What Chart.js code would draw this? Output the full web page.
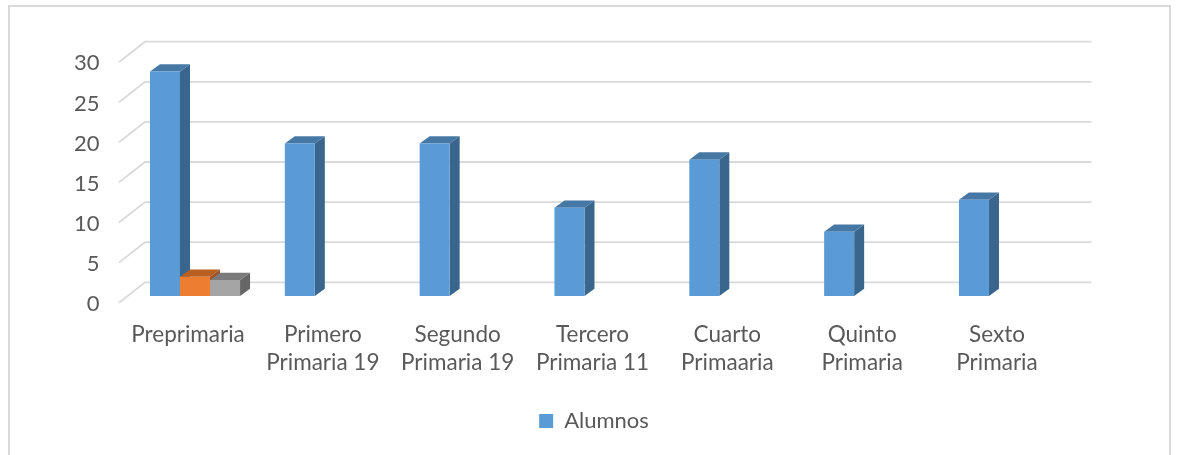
<!DOCTYPE html>
<html>
<head>
<meta charset="utf-8">
<title>Alumnos</title>
<script src="https://cdn.jsdelivr.net/npm/chart.js@4"></script>
<style>
    html, body { margin: 0; padding: 0; background: #fff; overflow: hidden; }
    #marco { position: absolute; left: 8px; top: 5px; width: 1159px; height: 470px; border: 2px solid #d9d9d9; }
    #myChart { position: absolute; left: 0; top: 0; }
</style>
</head>
<body>
<div id="marco"></div>
<canvas id="myChart" width="1178" height="455" style="width:1178px;height:455px"></canvas>
<script>
// Datos
const categorias = [
    'Preprimaria',
    ['Primero', 'Primaria 19'],
    ['Segundo', 'Primaria 19'],
    ['Tercero', 'Primaria 11'],
    ['Cuarto', 'Primaaria'],
    ['Quinto', 'Primaria'],
    ['Sexto', 'Primaria']
];
const alumnos = [28, 19, 19, 11, 17, 8, 12];
const columna2 = [2.4, null, null, null, null, null, null];
const columna3 = [2, null, null, null, null, null, null];

// Colores de cada serie: frente, lado, techo
const caras = [
    { frente: '#5b9bd5', lado: '#3a658c', techo: '#4678a6' },
    { frente: '#ed7d31', lado: '#9c5222', techo: '#b85f22' },
    { frente: '#a5a5a5', lado: '#666666', techo: '#7a7a7a' }
];
const colorTexto = '#595959';
const colorRejilla = '#d9d9d9';
const fuente = 'Lato, sans-serif';

// Profundidad del efecto 3D en pixeles
const fondoX = 10;
const fondoY = 7.3;

// Rejilla en perspectiva: linea corta en el piso y linea larga en la pared
const rejilla3d = {
    id: 'rejilla3d',
    beforeDatasetsDraw(chart) {
        const { ctx, chartArea, scales } = chart;
        ctx.save();
        ctx.strokeStyle = colorRejilla;
        ctx.lineWidth = 1.8;
        scales.y.ticks.forEach(t => {
            const p = scales.y.getPixelForValue(t.value);
            ctx.beginPath();
            ctx.moveTo(chartArea.left - 8.6, p + 6.7);
            ctx.lineTo(chartArea.left + 17.4, p - 13.7);
            ctx.lineTo(chartArea.right + 20, p - 13.7);
            ctx.stroke();
        });
        ctx.restore();
    }
};

// Lado y techo de todas las barras, antes de que Chart.js pinte los frentes
const barras3d = {
    id: 'barras3d',
    beforeDatasetsDraw(chart) {
        const { ctx } = chart;
        ctx.save();
        chart.data.datasets.forEach((serie, s) => {
            const c = caras[s];
            chart.getDatasetMeta(s).data.forEach((bar, i) => {
                if (serie.data[i] === null) return;
                const x0 = bar.x - bar.width / 2;
                const x1 = bar.x + bar.width / 2;

                ctx.fillStyle = c.lado;
                ctx.beginPath();
                ctx.moveTo(x1, bar.y);
                ctx.lineTo(x1 + fondoX, bar.y - fondoY);
                ctx.lineTo(x1 + fondoX, bar.base - fondoY);
                ctx.lineTo(x1, bar.base);
                ctx.closePath();
                ctx.fill();

                ctx.fillStyle = c.techo;
                ctx.beginPath();
                ctx.moveTo(x0, bar.y);
                ctx.lineTo(x0 + fondoX, bar.y - fondoY);
                ctx.lineTo(x1 + fondoX, bar.y - fondoY);
                ctx.lineTo(x1, bar.y);
                ctx.closePath();
                ctx.fill();
            });
        });
        ctx.restore();
    }
};

const ctx = document.getElementById('myChart').getContext('2d');
const myChart = new Chart(ctx, {
    type: 'bar',
    data: {
        labels: categorias,
        datasets: [
            { label: 'Alumnos', data: alumnos, backgroundColor: caras[0].frente },
            { label: 'Columna1', data: columna2, backgroundColor: caras[1].frente },
            { label: 'Columna2', data: columna3, backgroundColor: caras[2].frente }
        ]
    },
    plugins: [rejilla3d, barras3d],
    options: {
        responsive: false,
        animation: false,
        devicePixelRatio: 1,
        categoryPercentage: 0.668,
        barPercentage: 1,
        layout: { padding: { left: 10, top: 55.4, right: 0, bottom: 13 } },
        plugins: {
            tooltip: { enabled: false },
            legend: {
                position: 'bottom',
                labels: {
                    boxWidth: 14,
                    boxHeight: 14,
                    padding: 10,
                    color: colorTexto,
                    font: { family: fuente, size: 22 },
                    filter: item => item.datasetIndex === 0
                }
            }
        },
        scales: {
            x: {
                grid: { display: false },
                border: { display: false },
                afterFit(scale) { scale.height = 104; },
                ticks: {
                    autoSkip: false,
                    maxRotation: 0,
                    minRotation: 0,
                    padding: 17,
                    labelOffset: -7,
                    color: colorTexto,
                    font: { family: fuente, size: 22.5, lineHeight: 28 / 22.5 }
                }
            },
            y: {
                min: 0,
                max: 30,
                grid: { display: false },
                border: { display: false },
                afterFit(scale) { scale.width = 117.6; },
                ticks: {
                    stepSize: 5,
                    padding: 20,
                    labelOffset: 8,
                    color: colorTexto,
                    font: { family: fuente, size: 22 }
                }
            },
            // Eje vacio para dejar el margen derecho sin mover la leyenda
            margen: {
                position: 'right',
                grid: { display: false },
                border: { display: false },
                ticks: { display: false },
                afterFit(scale) { scale.width = 106.6; }
            }
        }
    }
});
</script>
</body>
</html>
